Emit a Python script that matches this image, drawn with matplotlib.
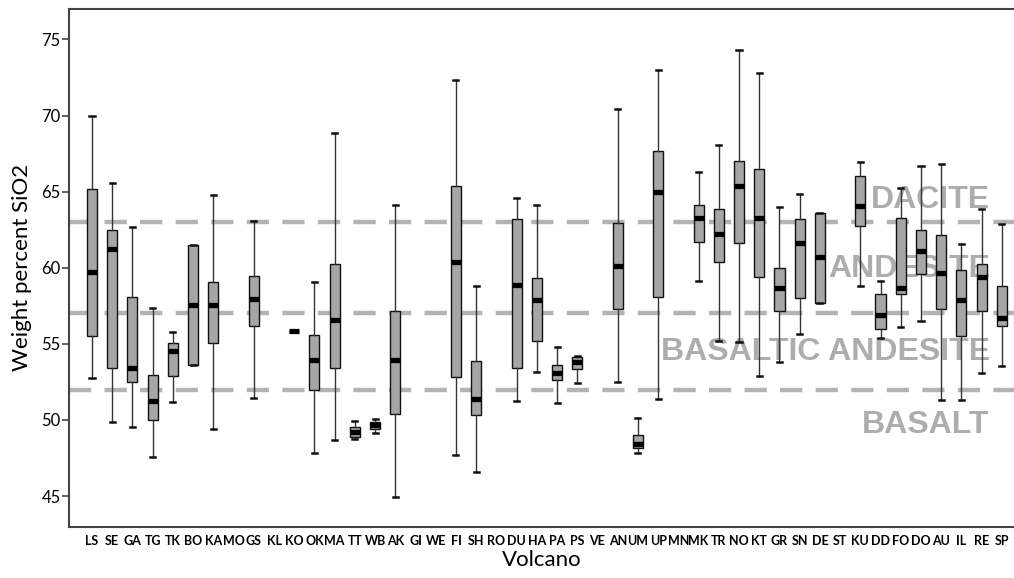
import matplotlib
matplotlib.use("Agg")
import matplotlib.pyplot as plt

plt.rcParams['font.family'] = ['Lato', 'DejaVu Sans']

volcanoes = ['LS', 'SE', 'GA', 'TG', 'TK', 'BO', 'KA', 'MO', 'GS', 'KL', 'KO', 'OK',
             'MA', 'TT', 'WB', 'AK', 'GI', 'WE', 'FI', 'SH', 'RO', 'DU', 'HA', 'PA',
             'PS', 'VE', 'AN', 'UM', 'UP', 'MN', 'MK', 'TR', 'NO', 'KT', 'GR', 'SN',
             'DE', 'ST', 'KU', 'DD', 'FO', 'DO', 'AU', 'IL', 'RE', 'SP']

# whisker low, Q1, median, Q3, whisker high (None = no samples)
whis_lo = [52.75, 49.85, 49.55, 47.6, 51.2, 53.6, 49.4, None, 51.45, None, 55.83, 47.8,
           48.7, 48.78, 49.16, 44.97, None, None, 47.73, 46.6, None, 51.26, 53.14, 51.13,
           52.42, None, 52.51, 47.82, 51.37, None, 59.12, 55.18, 55.11, 52.88, 53.82, 55.66,
           57.67, None, 58.82, 55.4, 56.1, 56.49, 51.3, 51.3, 53.1, 53.56]
q1 = [55.55, 53.4, 52.5, 49.97, 52.9, 53.6, 55.07, None, 56.2, None, 55.83, 51.98,
      53.43, 48.87, 49.38, 50.41, None, None, 52.82, 50.36, None, 53.4, 55.16, 52.6,
      53.34, None, 57.28, 48.17, 58.07, None, 61.71, 60.39, 61.6, 59.41, 57.15, 58.0,
      57.67, None, 62.76, 55.99, 58.29, 59.56, 57.26, 55.55, 57.13, 56.16]
medians = [59.7, 61.2, 53.4, 51.28, 54.52, 57.57, 57.57, None, 57.92, None, 55.83, 53.97,
           56.58, 49.2, 49.64, 53.91, None, None, 60.37, 51.35, None, 58.9, 57.85, 53.1,
           53.84, None, 60.13, 48.43, 64.95, None, 63.28, 62.19, 65.36, 63.24, 58.69, 61.6,
           60.68, None, 64.03, 56.91, 58.69, 61.09, 59.67, 57.9, 59.41, 56.71]
q3 = [65.15, 62.5, 58.07, 52.97, 55.07, 61.47, 59.05, None, 59.43, None, 55.83, 55.6,
      60.22, 49.53, 49.85, 57.15, None, None, 65.34, 53.87, None, 63.2, 59.32, 53.6,
      54.13, None, 62.93, 49.03, 67.66, None, 64.11, 63.88, 66.98, 66.46, 60.0, 63.22,
      63.61, None, 66.06, 58.29, 63.26, 62.5, 62.17, 59.82, 60.24, 58.82]
whis_hi = [70.0, 65.6, 62.65, 57.35, 55.8, 61.47, 64.75, None, 63.1, None, 55.83, 59.05,
           68.87, 49.95, 50.05, 64.1, None, None, 72.35, 58.8, None, 64.55, 64.1, 54.8,
           54.22, None, 70.4, 50.1, 72.96, None, 66.26, 68.04, 74.32, 72.79, 63.96, 64.82,
           63.61, None, 66.94, 59.12, 65.26, 66.68, 66.81, 61.53, 63.83, 62.86]

rock_limits = [52, 57, 63]
rock_names = ['BASALT', 'BASALTIC ANDESITE', 'ANDESITE', 'DACITE']
rock_label_y = [49.68, 54.45, 59.9, 64.45]

fig = plt.figure(figsize=(10.14, 5.78), dpi=100)
ax = fig.add_axes([0.068, 0.089, 0.932, 0.8955])

stats, pos = [], []
for i, name in enumerate(volcanoes):
    if medians[i] is None:
        continue
    stats.append(dict(label=name, whislo=whis_lo[i], q1=q1[i], med=medians[i],
                      q3=q3[i], whishi=whis_hi[i], fliers=[]))
    pos.append(i)

ax.bxp(stats, positions=pos, widths=0.5, capwidths=0.25, patch_artist=True,
       showfliers=False, manage_ticks=False, zorder=3,
       boxprops=dict(facecolor='#a6a6a6', edgecolor='#111111', linewidth=1.0),
       whiskerprops=dict(color='#333333', linewidth=1.0),
       capprops=dict(color='#111111', linewidth=1.8),
       medianprops=dict(color='black', linewidth=3.8, solid_capstyle='butt'))

for y in rock_limits:
    ax.axhline(y, color='#b3b3b3', linewidth=3.2, dashes=(5, 3), zorder=1)

for name, y in zip(rock_names, rock_label_y):
    ax.text(44.4, y, name, ha='right', va='center', fontsize=23, fontweight='bold',
            color='#adadad', family=['Liberation Sans', 'DejaVu Sans'], zorder=2)

ax.set_xlim(-1.14, 45.6)
ax.set_ylim(43, 77)
ax.set_yticks([45, 50, 55, 60, 65, 70, 75])
ax.set_xticks(range(len(volcanoes)))
ax.set_xticklabels(volcanoes, fontsize=9, fontweight='bold')
ax.tick_params(axis='x', length=0, pad=6)
ax.tick_params(axis='y', length=5, width=1.2, color='#444444', labelsize=12, pad=1)
for s in ['left', 'top', 'bottom']:
    ax.spines[s].set_color('#444444')
    ax.spines[s].set_linewidth(1.5)
ax.spines['right'].set_visible(False)

ax.set_xlabel('Volcano', fontsize=16, labelpad=2)
ax.set_ylabel('Weight percent SiO2', fontsize=16, labelpad=7)

fig.savefig('out.png', dpi=100)
